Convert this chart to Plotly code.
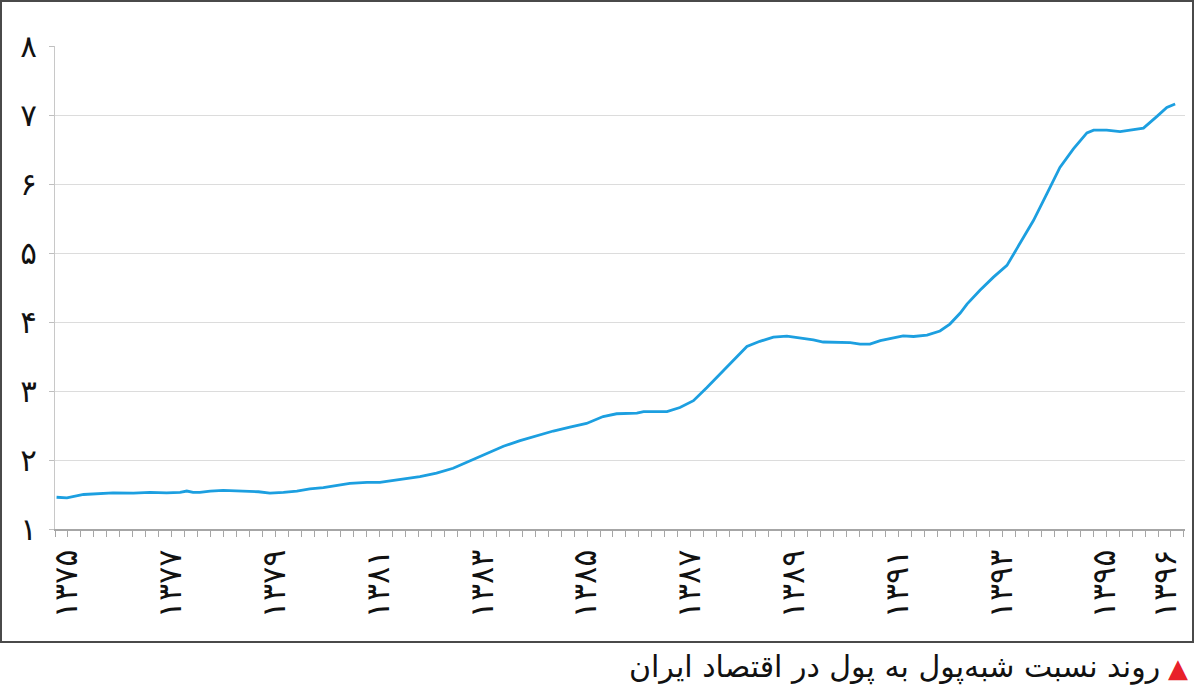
import plotly.graph_objects as go

# Data (decimal Persian year, ratio of quasi-money to money)
years = [1375.03, 1375.23, 1375.55, 1375.87, 1376.12, 1376.51, 1376.83, 1377.15, 1377.41, 1377.54,
         1377.66, 1377.79, 1377.99, 1378.24, 1378.50, 1378.76, 1378.92, 1379.14, 1379.27, 1379.40,
         1379.66, 1379.91, 1380.17, 1380.43, 1380.68, 1381.01, 1381.26, 1381.39, 1381.71, 1382.03,
         1382.35, 1382.67, 1383.00, 1383.32, 1383.64, 1383.96, 1384.28, 1384.60, 1384.92, 1385.24,
         1385.56, 1385.82, 1386.21, 1386.34, 1386.53, 1386.79, 1387.04, 1387.30, 1387.56, 1387.81,
         1388.07, 1388.33, 1388.58, 1388.84, 1389.10, 1389.35, 1389.61, 1389.80, 1390.13, 1390.32,
         1390.51, 1390.70, 1390.90, 1391.15, 1391.34, 1391.54, 1391.80, 1392.05, 1392.24, 1392.44,
         1392.57, 1392.82, 1393.08, 1393.34, 1393.59, 1393.85, 1394.11, 1394.36, 1394.62, 1394.88,
         1395.01, 1395.26, 1395.52, 1395.71, 1395.97, 1396.23, 1396.42, 1396.58]
ratio = [1.46, 1.45, 1.50, 1.51, 1.525, 1.52, 1.53, 1.525, 1.53, 1.55,
         1.53, 1.53, 1.55, 1.56, 1.55, 1.545, 1.54, 1.52, 1.52, 1.53,
         1.55, 1.58, 1.60, 1.63, 1.66, 1.675, 1.675, 1.69, 1.72, 1.76,
         1.81, 1.88, 1.99, 2.10, 2.20, 2.28, 2.355, 2.42, 2.475, 2.53,
         2.63, 2.67, 2.68, 2.70, 2.70, 2.70, 2.76, 2.86, 3.05, 3.24,
         3.44, 3.645, 3.72, 3.78, 3.795, 3.77, 3.74, 3.71, 3.70, 3.70,
         3.68, 3.68, 3.73, 3.77, 3.80, 3.79, 3.81, 3.87, 3.97, 4.13,
         4.26, 4.46, 4.65, 4.82, 5.13, 5.47, 5.86, 6.24, 6.51, 6.74,
         6.78, 6.78, 6.76, 6.785, 6.81, 6.98, 7.11, 7.16]

x_tick_pos = [1375.23, 1377.23, 1379.23, 1381.23, 1383.23, 1385.23, 1387.23, 1389.23,
              1391.23, 1393.23, 1395.23, 1396.39]
x_tick_text = ["۱۳۷۵", "۱۳۷۷", "۱۳۷۹", "۱۳۸۱", "۱۳۸۳", "۱۳۸۵", "۱۳۸۷", "۱۳۸۹",
               "۱۳۹۱", "۱۳۹۳", "۱۳۹۵", "۱۳۹۶"]
y_tick_vals = [1, 2, 3, 4, 5, 6, 7, 8]
y_tick_text = ["۱", "۲", "۳", "۴", "۵", "۶", "۷", "۸"]

title_text = "روند نسبت شبه‌پول به پول در اقتصاد ایران"

W, H = 1200, 690
L, R, T, B = 55, 15, 46, 161
PW, PH = W - L - R, H - T - B


def px(xp):
    return (xp - L) / PW


def py(yp):
    return (H - B - yp) / PH


fig = go.Figure()
fig.add_trace(go.Scatter(
    x=years, y=ratio, mode="lines",
    line=dict(color="#1c9fe0", width=2.8),
    hoverinfo="skip", showlegend=False,
))

font_main = "DejaVu Sans"

fig.update_layout(
    width=W, height=H,
    margin=dict(l=L, r=R, t=T, b=B, pad=0),
    paper_bgcolor="white", plot_bgcolor="white",
    showlegend=False,
    xaxis=dict(
        range=[1375, 1396.77],
        tickmode="array", tickvals=x_tick_pos, ticktext=x_tick_text,
        tickangle=-90, ticks="",
        tickfont=dict(family=font_main, size=32, color="#111"),
        showgrid=False, zeroline=False,
        showline=True, linecolor="#a6a6a6", linewidth=1.5,
        ticklabelstandoff=6,
        minor=dict(tickmode="linear", tick0=1375, dtick=0.25, ticks="outside",
                   ticklen=6, tickcolor="#a6a6a6", tickwidth=1, showgrid=False),
    ),
    yaxis=dict(
        range=[1, 8],
        tickmode="array", tickvals=y_tick_vals, ticktext=y_tick_text,
        ticks="outside", ticklen=5, tickcolor="#bfbfbf",
        tickfont=dict(family=font_main, size=31, color="#111"),
        showgrid=True, gridcolor="#dcdcdc", gridwidth=1,
        zeroline=False,
        showline=True, linecolor="#c8c8c8", linewidth=1,
        ticklabelstandoff=6,
    ),
    shapes=[
        dict(type="rect", xref="paper", yref="paper",
             x0=px(1), x1=px(1193), y0=py(642), y1=py(1),
             line=dict(color="#4a4a4a", width=2), fillcolor="rgba(0,0,0,0)",
             layer="above"),
    ],
    annotations=[
        dict(xref="paper", yref="paper", x=px(1190), y=py(668),
             xanchor="right", yanchor="middle", showarrow=False,
             text="▲", font=dict(family=font_main, size=26, color="#e8212a")),
        dict(xref="paper", yref="paper", x=px(1162), y=py(667),
             xanchor="right", yanchor="middle", showarrow=False,
             text=title_text, font=dict(family=font_main, size=30, color="#111")),
    ],
)

fig.write_html("out.html")
